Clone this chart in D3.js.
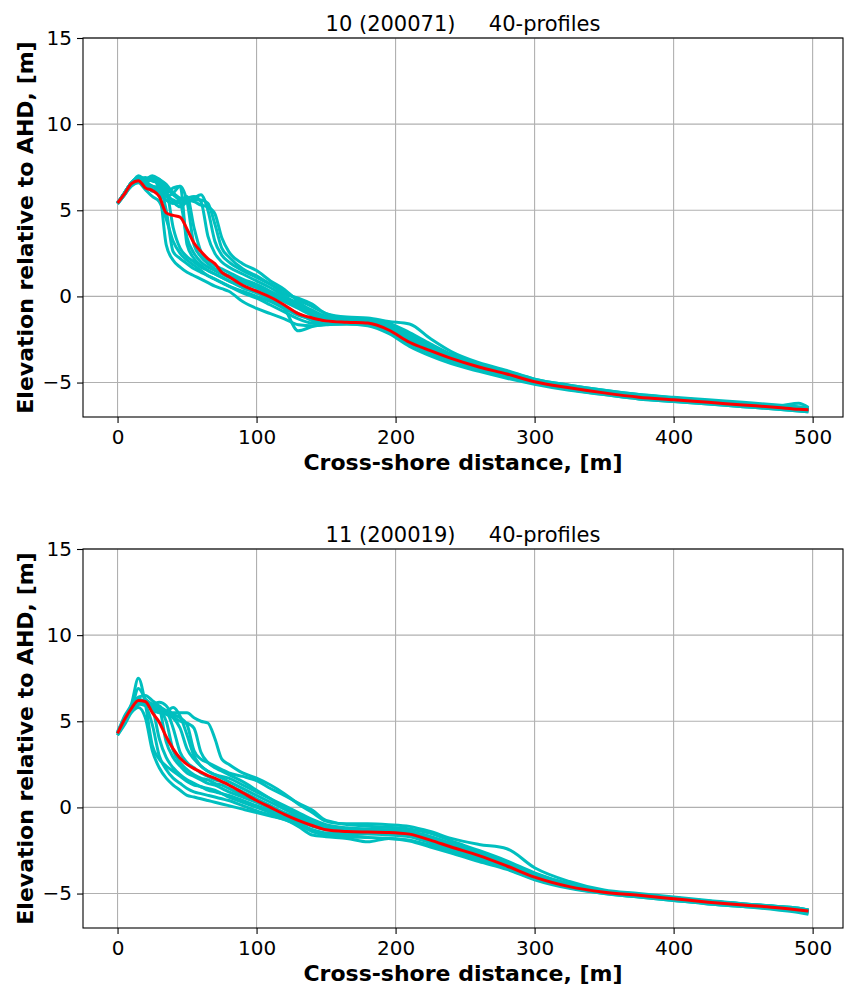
<!DOCTYPE html>
<html>
<head>
<meta charset="utf-8">
<script src="https://d3js.org/d3.v7.min.js"></script>
<style>
body { margin: 0; background: #fff; }
text { font-family: "DejaVu Sans", sans-serif; }
</style>
</head>
<body>
<div id="profiles_plot"></div>
<script>
// Cross-shore distance of every sample, [m]
var distances = [0, 5, 10, 15, 20, 25, 30, 35, 40, 45, 50, 55, 60, 65, 70, 75, 80, 90, 100, 110,
  120, 130, 140, 150, 165, 180, 195, 210, 225, 240, 260, 280, 300, 325, 350, 375, 400, 425, 450, 475, 490, 497];

// Block 10 (200071): surveyed profiles, elevation [m AHD]
var profiles10 = [
  [5.4, 6.0, 6.6, 6.9, 6.6, 6.8, 6.2, 3.0, 2.1, 1.7, 1.4, 1.2, 1.0, 0.8, 0.6, 0.45, 0.3, -0.3, -0.7, -1.0, -1.3, -1.65, -1.7, -1.65, -1.6, -1.65, -2.05, -2.75, -3.3, -3.75, -4.25, -4.65, -5.05, -5.4, -5.7, -5.95, -6.1, -6.25, -6.4, -6.55, -6.65, -6.7],
  [5.4, 5.9, 6.5, 7.0, 6.8, 6.9, 6.5, 5.0, 2.6, 2.2, 1.9, 1.6, 1.4, 1.2, 1.0, 0.8, 0.6, 0.3, 0.0, -0.3, -0.7, -1.1, -1.3, -1.45, -1.5, -1.55, -1.85, -2.55, -3.1, -3.6, -4.1, -4.5, -4.9, -5.25, -5.55, -5.8, -5.95, -6.1, -6.25, -6.4, -6.5, -6.55],
  [5.4, 6.0, 6.6, 6.8, 6.9, 6.7, 6.6, 6.2, 4.0, 2.8, 2.3, 2.0, 1.7, 1.5, 1.3, 1.1, 0.9, 0.5, 0.2, -0.2, -0.6, -1.0, -1.4, -1.6, -1.5, -1.5, -1.8, -2.5, -3.0, -3.5, -4.05, -4.5, -4.9, -5.25, -5.55, -5.8, -5.95, -6.15, -6.3, -6.45, -6.5, -6.55],
  [5.4, 6.0, 6.5, 6.8, 6.5, 6.1, 6.2, 6.0, 6.3, 6.4, 3.0, 2.2, 1.8, 1.5, 1.3, 1.1, 0.9, 0.6, 0.3, -0.1, -0.7, -2.0, -1.75, -1.6, -1.5, -1.45, -1.8, -2.6, -3.2, -3.7, -4.2, -4.6, -5.0, -5.3, -5.6, -5.85, -6.0, -6.1, -6.3, -6.4, -6.5, -6.55],
  [5.45, 6.0, 6.6, 6.9, 6.7, 6.9, 6.8, 6.3, 5.9, 5.5, 3.4, 2.5, 2.0, 1.7, 1.5, 1.3, 1.1, 0.8, 0.5, 0.1, -0.3, -0.7, -1.1, -1.3, -1.4, -1.45, -1.75, -2.45, -3.0, -3.55, -4.05, -4.5, -4.9, -5.25, -5.55, -5.8, -5.95, -6.1, -6.25, -6.4, -6.5, -6.55],
  [5.4, 5.9, 6.5, 6.8, 6.6, 6.4, 6.3, 5.8, 6.0, 6.4, 5.5, 3.0, 2.3, 1.9, 1.6, 1.4, 1.2, 0.9, 0.6, 0.2, -0.2, -0.6, -1.0, -1.3, -1.45, -1.55, -1.9, -2.7, -3.25, -3.75, -4.2, -4.6, -5.0, -5.35, -5.65, -5.9, -6.05, -6.2, -6.35, -6.5, -6.55, -6.6],
  [5.4, 6.0, 6.6, 6.9, 6.8, 7.0, 6.8, 6.5, 6.0, 5.6, 5.8, 4.0, 2.6, 2.1, 1.8, 1.6, 1.4, 1.0, 0.7, 0.3, -0.1, -0.5, -0.9, -1.2, -1.35, -1.4, -1.6, -2.2, -2.8, -3.4, -3.95, -4.4, -4.85, -5.2, -5.5, -5.75, -5.9, -6.05, -6.2, -6.35, -6.45, -6.5],
  [5.4, 6.0, 6.6, 6.8, 6.5, 6.2, 6.0, 5.6, 5.4, 5.6, 5.7, 5.8, 5.5, 3.5, 2.5, 2.0, 1.7, 1.3, 0.9, 0.5, 0.0, -0.4, -0.8, -1.15, -1.3, -1.4, -1.55, -2.1, -2.75, -3.35, -3.9, -4.35, -4.8, -5.15, -5.45, -5.7, -5.85, -6.0, -6.15, -6.3, -6.4, -6.45],
  [5.4, 6.0, 6.5, 6.9, 6.6, 6.8, 6.5, 6.0, 5.5, 5.2, 5.5, 5.7, 5.9, 5.0, 3.2, 2.4, 2.0, 1.5, 1.1, 0.7, 0.3, -0.2, -0.6, -1.0, -1.3, -1.4, -1.6, -2.3, -2.9, -3.45, -4.0, -4.45, -4.9, -5.25, -5.55, -5.8, -5.95, -6.1, -6.25, -6.4, -6.45, -6.5],
  [5.4, 6.0, 6.6, 6.8, 6.6, 6.4, 6.1, 5.8, 5.6, 5.4, 5.5, 5.6, 5.6, 5.4, 4.2, 2.8, 2.3, 1.6, 1.2, 0.7, 0.15, -0.1, -0.45, -1.0, -1.2, -1.25, -1.45, -1.6, -2.45, -3.2, -3.85, -4.3, -4.8, -5.15, -5.45, -5.7, -5.9, -6.05, -6.2, -6.35, -6.2, -6.45],
  [5.4, 6.0, 6.6, 6.9, 6.8, 6.9, 6.6, 6.3, 6.0, 5.7, 5.6, 5.5, 5.3, 5.2, 4.8, 3.4, 2.6, 1.9, 1.5, 0.9, 0.4, -0.3, -0.9, -1.2, -1.3, -1.4, -1.7, -2.4, -3.0, -3.55, -4.05, -4.5, -4.95, -5.3, -5.6, -5.85, -6.0, -6.15, -6.3, -6.45, -6.55, -6.6],
  [5.35, 5.9, 6.4, 6.6, 6.2, 5.8, 5.5, 4.5, 3.2, 2.5, 2.1, 1.8, 1.5, 1.2, 1.0, 0.8, 0.6, 0.2, -0.1, -0.5, -0.9, -1.3, -1.55, -1.6, -1.6, -1.7, -2.15, -2.9, -3.45, -3.9, -4.35, -4.75, -5.1, -5.45, -5.7, -5.95, -6.1, -6.25, -6.4, -6.55, -6.65, -6.7]
];
// Block 10 mean profile
var mean10 = [5.42, 5.95, 6.55, 6.72, 6.3, 6.15, 5.8, 4.85, 4.7, 4.6, 3.9, 3.1, 2.6, 2.2, 1.9, 1.4, 1.15, 0.65, 0.3, -0.05,
  -0.5, -1.0, -1.25, -1.42, -1.5, -1.55, -1.95, -2.66, -3.15, -3.6, -4.1, -4.5, -4.95, -5.3, -5.6, -5.85, -6.0, -6.15, -6.3, -6.45, -6.55, -6.58];

// Block 11 (200019): surveyed profiles, elevation [m AHD]
var profiles11 = [
  [4.3, 5.3, 6.0, 7.5, 6.0, 3.6, 2.8, 2.4, 2.1, 1.8, 1.5, 1.3, 1.2, 1.0, 0.9, 0.8, 0.6, 0.3, 0.0, -0.3, -0.6, -1.0, -1.3, -1.5, -1.6, -1.55, -1.6, -1.7, -2.05, -2.45, -2.95, -3.5, -4.1, -4.65, -4.95, -5.15, -5.35, -5.55, -5.7, -5.85, -6.0, -6.05],
  [4.2, 4.8, 5.5, 5.8, 5.2, 3.3, 2.3, 1.7, 1.3, 1.0, 0.7, 0.6, 0.5, 0.4, 0.3, 0.2, 0.1, -0.1, -0.3, -0.5, -0.7, -1.1, -1.6, -1.7, -1.8, -2.0, -1.8, -1.95, -2.3, -2.65, -3.15, -3.6, -4.2, -4.7, -5.0, -5.2, -5.4, -5.6, -5.75, -5.9, -6.05, -6.15],
  [4.3, 5.0, 5.7, 6.9, 6.3, 5.8, 4.0, 2.9, 2.3, 1.9, 1.6, 1.4, 1.2, 1.1, 1.0, 0.8, 0.7, 0.4, 0.1, -0.2, -0.5, -0.9, -1.3, -1.5, -1.5, -1.45, -1.5, -1.65, -2.0, -2.4, -2.9, -3.5, -4.1, -4.6, -4.95, -5.15, -5.35, -5.5, -5.7, -5.85, -5.95, -6.05],
  [4.4, 5.2, 5.9, 6.4, 6.5, 6.2, 5.8, 3.8, 2.9, 2.4, 2.0, 1.8, 1.6, 1.4, 1.3, 1.1, 0.9, 0.6, 0.3, -0.1, -0.5, -0.8, -1.1, -1.3, -1.4, -1.4, -1.4, -1.5, -1.8, -2.25, -2.75, -3.3, -3.95, -4.55, -4.9, -5.1, -5.3, -5.45, -5.65, -5.8, -5.9, -6.0],
  [4.3, 5.0, 5.6, 6.0, 6.1, 5.9, 5.7, 5.0, 3.3, 2.6, 2.2, 1.9, 1.7, 1.6, 1.4, 1.3, 1.1, 0.7, 0.3, 0.0, -0.4, -0.7, -1.0, -1.2, -1.35, -1.4, -1.5, -1.6, -1.9, -2.3, -2.85, -3.4, -4.0, -4.55, -4.9, -5.1, -5.3, -5.5, -5.65, -5.8, -5.9, -6.0],
  [4.3, 5.1, 5.8, 6.1, 6.2, 5.9, 5.8, 5.6, 4.6, 3.2, 2.6, 2.3, 2.0, 1.8, 1.6, 1.5, 1.3, 0.9, 0.5, 0.1, -0.3, -0.6, -0.9, -1.15, -1.3, -1.35, -1.35, -1.5, -1.8, -2.2, -2.7, -3.25, -3.9, -4.5, -4.85, -5.05, -5.25, -5.45, -5.6, -5.75, -5.9, -5.95],
  [4.3, 5.1, 5.7, 6.1, 6.0, 5.8, 5.6, 5.4, 5.2, 4.6, 3.4, 2.8, 2.4, 2.1, 1.9, 1.7, 1.5, 1.1, 0.7, 0.3, -0.1, -0.5, -0.8, -1.05, -1.2, -1.25, -1.3, -1.4, -1.7, -2.1, -2.6, -3.2, -3.85, -4.45, -4.85, -5.1, -5.3, -5.5, -5.65, -5.8, -5.95, -6.05],
  [4.2, 5.0, 5.6, 6.0, 6.2, 6.0, 5.9, 5.6, 5.8, 5.3, 4.2, 3.0, 2.4, 2.1, 1.9, 1.8, 1.7, 1.3, 0.9, 0.5, 0.1, -0.3, -0.7, -1.0, -1.2, -1.3, -1.35, -1.45, -1.75, -2.15, -2.7, -3.3, -3.95, -4.55, -4.9, -5.1, -5.3, -5.5, -5.65, -5.8, -5.9, -6.0],
  [4.3, 5.0, 5.7, 6.2, 6.2, 5.9, 5.7, 5.5, 5.4, 5.2, 4.8, 3.3, 2.8, 2.6, 2.4, 2.2, 2.0, 1.8, 1.55, 1.1, 0.7, 0.25, -0.15, -0.75, -0.95, -0.95, -1.0, -1.1, -1.4, -1.8, -2.15, -2.4, -3.5, -4.3, -4.8, -5.0, -5.2, -5.4, -5.6, -5.75, -5.85, -5.95],
  [4.3, 5.1, 5.8, 6.3, 6.1, 5.7, 5.5, 5.5, 5.5, 5.5, 5.5, 5.2, 5.0, 4.9, 4.0, 2.8, 2.5, 2.0, 1.7, 1.3, 0.8, 0.2, -0.3, -0.8, -1.0, -1.1, -1.15, -1.25, -1.5, -1.95, -2.5, -3.1, -3.8, -4.45, -4.85, -5.05, -5.25, -5.45, -5.6, -5.75, -5.85, -5.95],
  [4.3, 5.0, 5.6, 6.0, 6.1, 6.0, 6.1, 5.9, 5.3, 5.0, 4.9, 4.6, 3.2, 2.6, 2.3, 2.1, 1.9, 1.5, 1.0, 0.5, 0.0, -0.4, -0.8, -1.1, -1.25, -1.3, -1.3, -1.4, -1.7, -2.1, -2.65, -3.2, -3.9, -4.5, -4.85, -5.05, -5.25, -5.45, -5.6, -5.75, -5.85, -5.95],
  [4.2, 4.9, 5.6, 6.0, 5.9, 4.8, 3.0, 2.2, 1.7, 1.4, 1.1, 0.9, 0.8, 0.7, 0.6, 0.5, 0.4, 0.1, -0.2, -0.45, -0.7, -1.0, -1.4, -1.6, -1.7, -1.75, -1.8, -1.9, -2.2, -2.55, -3.05, -3.55, -4.15, -4.65, -5.0, -5.2, -5.4, -5.6, -5.75, -5.95, -6.1, -6.2]
];
// Block 11 mean profile
var mean11 = [4.3, 5.1, 5.75, 6.2, 6.15, 5.5, 4.95, 4.1, 3.4, 2.85, 2.5, 2.25, 2.05, 1.85, 1.7, 1.5, 1.3, 0.85, 0.4, 0.0,
  -0.4, -0.75, -1.05, -1.3, -1.4, -1.43, -1.45, -1.55, -1.9, -2.3, -2.8, -3.4, -4.05, -4.6, -4.92, -5.1, -5.3, -5.5, -5.67, -5.82, -5.95, -6.02];

var panelTitles = ["10 (200071)     40-profiles", "11 (200019)     40-profiles"];
var xTicks = [0, 100, 200, 300, 400, 500];
var yTicks = [-5, 0, 5, 10, 15];

// Figure size and the two axes boxes
var W = 844, H = 985;
var left = 83, right = 843, panelHeight = 379;
var panelTops = [38, 549];

var svg = d3.select("#profiles_plot")
  .append("svg")
  .attr("width", W)
  .attr("height", H);

var x = d3.scaleLinear().domain([-24.85, 521.85]).range([left, right]);

function drawPanel(top, title, profiles, mean) {
  var bottom = top + panelHeight;
  var y = d3.scaleLinear().domain([-7, 15]).range([bottom, top]);
  var g = svg.append("g");

  // Grid
  g.selectAll(".vgrid").data(xTicks).enter().append("line")
    .attr("x1", function (d) { return x(d); })
    .attr("x2", function (d) { return x(d); })
    .attr("y1", top).attr("y2", bottom)
    .attr("stroke", "#b0b0b0").attr("stroke-width", 1.1);
  g.selectAll(".hgrid").data(yTicks).enter().append("line")
    .attr("x1", left).attr("x2", right)
    .attr("y1", function (d) { return y(d); })
    .attr("y2", function (d) { return y(d); })
    .attr("stroke", "#b0b0b0").attr("stroke-width", 1.1);

  var line = d3.line()
    .x(function (d, i) { return x(distances[i]); })
    .y(function (d) { return y(d); })
    .curve(d3.curveMonotoneX);

  // Individual profiles
  g.selectAll(".profile").data(profiles).enter().append("path")
    .attr("class", "profile")
    .attr("d", line)
    .attr("fill", "none")
    .attr("stroke", "#00bfbf")
    .attr("stroke-width", 3)
    .attr("stroke-linejoin", "round");

  // Mean profile
  g.append("path").datum(mean)
    .attr("d", line)
    .attr("fill", "none")
    .attr("stroke", "#ff0000")
    .attr("stroke-width", 3)
    .attr("stroke-linejoin", "round");

  // Axes
  var xAxis = g.append("g")
    .attr("transform", "translate(0," + bottom + ")")
    .call(d3.axisBottom(x).tickValues(xTicks).tickSize(6).tickSizeOuter(0).tickPadding(7));
  var yAxis = g.append("g")
    .attr("transform", "translate(" + left + ",0)")
    .call(d3.axisLeft(y).tickValues(yTicks).tickSize(6).tickSizeOuter(0).tickPadding(5));
  [xAxis, yAxis].forEach(function (a) {
    a.select(".domain").remove();
    a.attr("font-size", 20).attr("font-family", "DejaVu Sans");
    a.selectAll("line").attr("stroke", "#000").attr("stroke-width", 1.1);
    a.selectAll("text").attr("fill", "#000");
  });

  // Spines
  g.append("rect")
    .attr("x", left).attr("y", top)
    .attr("width", right - left).attr("height", panelHeight)
    .attr("fill", "none").attr("stroke", "#000").attr("stroke-width", 1.1);

  g.append("text")
    .attr("x", (left + right) / 2).attr("y", top - 7.5)
    .attr("text-anchor", "middle")
    .attr("font-size", 21)
    .style("white-space", "pre")
    .text(title);

  g.append("text")
    .attr("x", (left + right) / 2).attr("y", bottom + 53)
    .attr("text-anchor", "middle")
    .attr("font-size", 22).attr("font-weight", "bold")
    .text("Cross-shore distance, [m]");

  g.append("text")
    .attr("transform", "translate(33," + (top + bottom) / 2 + ") rotate(-90)")
    .attr("text-anchor", "middle")
    .attr("font-size", 22).attr("font-weight", "bold")
    .text("Elevation relative to AHD, [m]");
}

drawPanel(panelTops[0], panelTitles[0], profiles10, mean10);
drawPanel(panelTops[1], panelTitles[1], profiles11, mean11);
</script>
</body>
</html>
